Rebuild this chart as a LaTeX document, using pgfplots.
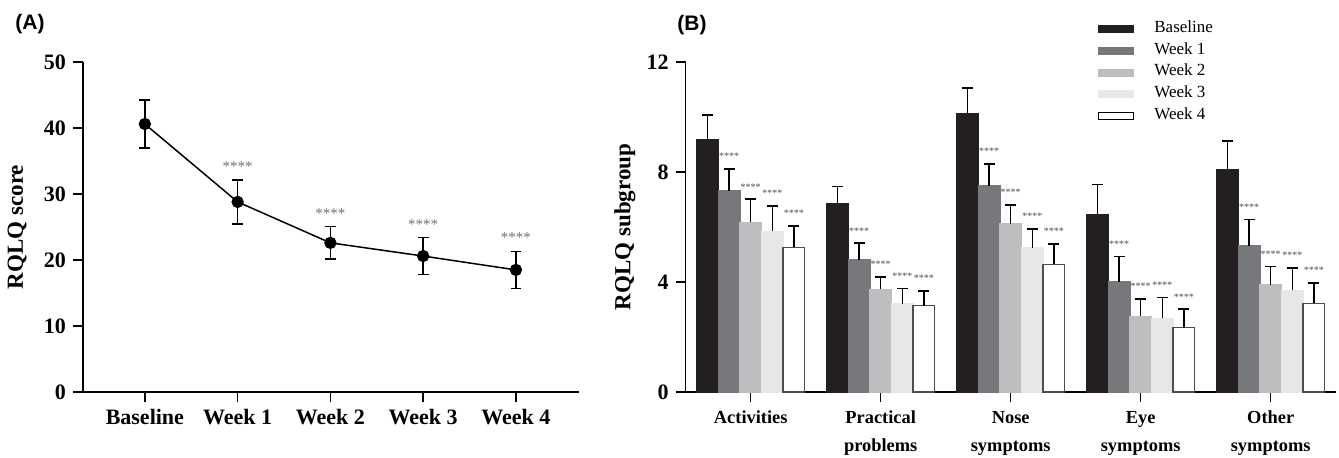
\documentclass[border=0pt]{standalone}
\usepackage{pgfplots}
\usepackage{pgfplotstable}
\pgfplotsset{compat=1.18}
\usepackage{fontspec}
\setmainfont{Liberation Serif}
\newfontfamily\arialfont{Liberation Sans}

\definecolor{cB}{HTML}{231F20}
\definecolor{cW1}{HTML}{77787B}
\definecolor{cW2}{HTML}{BCBEC0}
\definecolor{cW3}{HTML}{E6E7E8}
\definecolor{cW4}{HTML}{FFFFFF}
\definecolor{cW4d}{HTML}{4D4D4F}

% Panel A
\pgfplotstableread{
x y e
0 40.6 3.65
1 28.8 3.35
2 22.6 2.45
3 20.6 2.80
4 18.5 2.80
}\tblA

% Panel B : g = category index, v = mean, e = upper error
\pgfplotstableread{
g v e
0 9.19 0.89
1 6.84 0.63
2 10.12 0.93
3 6.44 1.11
4 8.07 1.06
}\tblBase
\pgfplotstableread{
g v e
0 7.31 0.80
1 4.81 0.60
2 7.49 0.80
3 4.01 0.91
4 5.31 0.96
}\tblWa
\pgfplotstableread{
g v e
0 6.17 0.84
1 3.73 0.46
2 6.11 0.69
3 2.75 0.63
4 3.89 0.67
}\tblWb
\pgfplotstableread{
g v e
0 5.85 0.91
1 3.20 0.56
2 5.24 0.69
3 2.68 0.76
4 3.70 0.81
}\tblWc
\pgfplotstableread{
g v e
0 5.26 0.78
1 3.14 0.54
2 4.64 0.74
3 2.34 0.67
4 3.23 0.74
}\tblWd

\pgfplotsset{
  mybar/.style n args={3}{ybar, bar width=0.166, bar shift=0pt,
    fill=#1, draw=#2, line width=0.6pt,
    error bars/.cd, y dir=plus, y explicit,
    error bar style={line width=0.75pt, black},
    error mark options={rotate=90, mark size=2.7pt, line width=0.75pt, black},
    /pgfplots/.cd,
    legend image code/.code={\draw[fill=#1, draw=#3, line width=0.5pt] (0pt,-1.75pt) rectangle (17.5pt,1.75pt);}},
  starsB/.style={draw=none, mark=none, forget plot,
    nodes near coords={****},
    every node near coord/.style={font=\fontsize{5}{5}\selectfont, text=black!70, anchor=center, inner sep=0pt}},
}

\begin{document}
\begin{tikzpicture}
\useasboundingbox (0,0) rectangle (669.5pt,-229pt);
\node[anchor=west, font=\arialfont\bfseries\fontsize{10.5}{12}\selectfont, inner sep=0pt] at (7.5pt,-12pt) {(A)};
\node[anchor=west, font=\arialfont\bfseries\fontsize{10.5}{12}\selectfont, inner sep=0pt] at (338.5pt,-12.5pt) {(B)};

% ---------------- Panel A ----------------
\begin{axis}[
  at={(41.5pt,-196pt)}, anchor=south west,
  scale only axis, width=248pt, height=165pt,
  xmin=-0.667, xmax=4.68, ymin=0, ymax=50,
  axis lines*=left,
  axis line style={line width=0.75pt},
  tick style={line width=0.75pt, black},
  tick align=outside, major tick length=5pt,
  xtick={0,1,2,3,4},
  xticklabels={Baseline, Week 1, Week 2, Week 3, Week 4},
  ytick={0,10,20,30,40,50},
  /pgf/number format/assume math mode=true,
  tick label style={font=\fontsize{11}{13}\selectfont\bfseries},
  ylabel={RQLQ score},
  ylabel style={font=\fontsize{11.5}{13}\selectfont\bfseries, at={(axis description cs:-0.133,0.5)}, anchor=center},
  clip=false,
]
\addplot[black, line width=0.75pt, mark=*, mark size=2.7pt,
  error bars/.cd, y dir=both, y explicit,
  error bar style={line width=0.75pt},
  error mark options={rotate=90, mark size=2.7pt, line width=0.75pt}]
  table[x=x, y=y, y error=e] {\tblA};
\addplot[draw=none, mark=none, nodes near coords={****},
  every node near coord/.style={font=\fontsize{7.5}{8}\selectfont, text=black!55, anchor=center, inner sep=0pt}]
  coordinates {(1,34.2) (2,27.1) (3,25.4) (4,23.45)};
\end{axis}

% ---------------- Panel B ----------------
\begin{axis}[
  at={(342.85pt,-196pt)}, anchor=south west,
  scale only axis, width=325pt, height=165pt,
  xmin=-0.5, xmax=4.5, ymin=0, ymax=12,
  axis lines*=left,
  axis line style={line width=0.75pt},
  tick style={line width=0.75pt, black},
  tick align=outside, major tick length=5pt,
  xtick={0,1,2,3,4},
  xticklabels={Activities, Practical\\problems, Nose\\symptoms, Eye\\symptoms, Other\\symptoms},
  x tick label style={align=center, font=\fontsize{9.2}{14}\selectfont\bfseries, yshift=-1pt},
  ytick={0,4,8,12},
  /pgf/number format/assume math mode=true,
  y tick label style={font=\fontsize{11}{13}\selectfont\bfseries},
  ylabel={RQLQ subgroup},
  ylabel style={font=\fontsize{11.5}{13}\selectfont\bfseries, at={(axis description cs:-0.0934,0.5)}, anchor=center},
  legend style={at={(0.6343,1.1333)}, anchor=north west, draw=none, fill=none,
    inner sep=0pt, column sep=10pt,
    nodes={inner xsep=0pt, inner ysep=0pt, text height=7pt, text depth=3.85pt},
    font=\fontsize{8.5}{10}\selectfont},
  legend cell align=left,
  clip=false,
]
\addplot[mybar={cB}{cB}{cB}] table[x expr=\thisrow{g}-0.332, y=v, y error=e] {\tblBase};
\addlegendentry{Baseline}
\addplot[mybar={cW1}{cW1}{cW1}] table[x expr=\thisrow{g}-0.166, y=v, y error=e] {\tblWa};
\addlegendentry{Week 1}
\addplot[mybar={cW2}{cW2}{cW2}] table[x expr=\thisrow{g}, y=v, y error=e] {\tblWb};
\addlegendentry{Week 2}
\addplot[mybar={cW3}{cW3}{cW3}] table[x expr=\thisrow{g}+0.166, y=v, y error=e] {\tblWc};
\addlegendentry{Week 3}
\addplot[mybar={cW4}{cW4d}{black}] table[x expr=\thisrow{g}+0.332, y=v, y error=e] {\tblWd};
\addlegendentry{Week 4}

\addplot[starsB] table[x expr=\thisrow{g}-0.166, y expr=\thisrow{v}+\thisrow{e}+0.45] {\tblWa};
\addplot[starsB] table[x expr=\thisrow{g}, y expr=\thisrow{v}+\thisrow{e}+0.45] {\tblWb};
\addplot[starsB] table[x expr=\thisrow{g}+0.166, y expr=\thisrow{v}+\thisrow{e}+0.45] {\tblWc};
\addplot[starsB] table[x expr=\thisrow{g}+0.332, y expr=\thisrow{v}+\thisrow{e}+0.45] {\tblWd};
\end{axis}
\end{tikzpicture}
\end{document}
